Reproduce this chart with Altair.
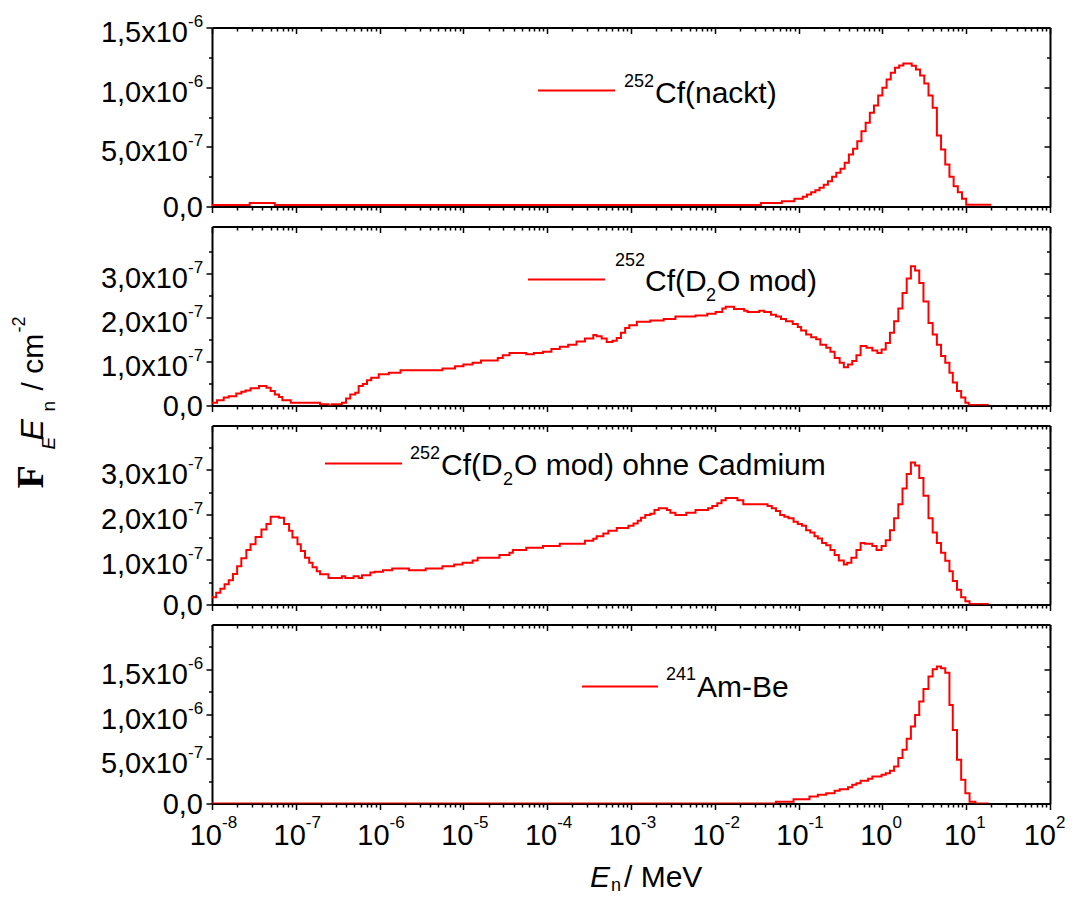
import altair as alt
import pandas as pd

# ---------------- data ----------------
# bin edges as log10(E / MeV); values in units of 1e-7 cm^-2 (step histograms)
cf_bare_logE = [-8.00, -7.55, -7.25, -1.45, -1.20, -1.05, -0.95, -0.90, -0.85, -0.80,
                -0.75, -0.70, -0.65, -0.60, -0.55, -0.50, -0.45, -0.40, -0.35, -0.30,
                -0.25, -0.20, -0.15, -0.10, -0.05, 0.00, 0.05, 0.10, 0.15, 0.20,
                0.25, 0.30, 0.35, 0.40, 0.45, 0.50, 0.55, 0.60, 0.65, 0.70,
                0.75, 0.80, 0.85, 0.90, 0.95, 1.00]
cf_bare_val = [0.12, 0.30, 0.12, 0.30, 0.44, 0.64, 0.81, 1.00, 1.20, 1.37,
               1.57, 1.82, 2.12, 2.49, 2.82, 3.16, 3.66, 4.36, 4.83, 5.47,
               6.31, 7.01, 7.85, 8.46, 9.30, 9.95, 10.64, 11.20, 11.62, 11.82,
               11.98, 11.98, 11.80, 11.48, 10.98, 10.30, 9.30, 8.27, 5.95, 4.78,
               3.52, 2.49, 1.70, 1.20, 0.64, 0.15]
cf_bare_end = 1.30

cf_mod_logE = [-8.00, -7.94, -7.86, -7.80, -7.71, -7.65, -7.60, -7.54, -7.44, -7.35,
               -7.30, -7.25, -7.20, -7.16, -7.06, -6.71, -6.61, -6.57, -6.45, -6.40,
               -6.35, -6.29, -6.25, -6.20, -6.15, -6.10, -6.01, -5.89, -5.75, -5.25,
               -5.10, -5.00, -4.89, -4.79, -4.59, -4.53, -4.45, -4.25, -4.16, -4.05,
               -3.95, -3.85, -3.75, -3.65, -3.55, -3.45, -3.41, -3.35, -3.29, -3.22,
               -3.17, -3.12, -3.07, -3.02, -2.93, -2.77, -2.61, -2.47, -2.23, -2.09,
               -1.99, -1.91, -1.87, -1.77, -1.65, -1.61, -1.47, -1.41, -1.33, -1.27,
               -1.21, -1.15, -1.07, -1.01, -0.97, -0.91, -0.85, -0.79, -0.74, -0.67,
               -0.62, -0.57, -0.51, -0.46, -0.41, -0.36, -0.31, -0.26, -0.19, -0.12,
               -0.06, -0.01, 0.04, 0.09, 0.14, 0.19, 0.24, 0.29, 0.34, 0.39,
               0.44, 0.49, 0.55, 0.60, 0.65, 0.70, 0.75, 0.80, 0.84, 0.89,
               0.94, 0.99, 1.03]
cf_mod_val = [0.06, 0.12, 0.18, 0.21, 0.27, 0.31, 0.34, 0.39, 0.44, 0.40,
              0.33, 0.25, 0.19, 0.12, 0.06, 0.03, 0.00, 0.03, 0.06, 0.16,
              0.25, 0.29, 0.44, 0.49, 0.57, 0.63, 0.71, 0.74, 0.80, 0.84,
              0.89, 0.93, 0.97, 1.02, 1.08, 1.14, 1.19, 1.16, 1.19, 1.22,
              1.28, 1.33, 1.38, 1.45, 1.52, 1.60, 1.57, 1.52, 1.44, 1.47,
              1.53, 1.65, 1.76, 1.82, 1.90, 1.93, 1.96, 2.02, 2.04, 2.08,
              2.12, 2.20, 2.24, 2.19, 2.15, 2.12, 2.15, 2.12, 2.06, 2.02,
              1.96, 1.91, 1.85, 1.78, 1.70, 1.61, 1.55, 1.50, 1.38, 1.31,
              1.22, 1.08, 0.97, 0.87, 0.93, 1.01, 1.14, 1.35, 1.31, 1.25,
              1.19, 1.27, 1.42, 1.65, 1.91, 2.20, 2.55, 2.88, 3.16, 3.06,
              2.78, 2.36, 1.87, 1.61, 1.38, 1.12, 0.97, 0.74, 0.52, 0.33,
              0.18, 0.06, 0.01]
cf_mod_end = 1.27

cf_nocd_logE = [-8.00, -7.95, -7.90, -7.85, -7.80, -7.75, -7.70, -7.65, -7.59, -7.54,
                -7.48, -7.41, -7.35, -7.30, -7.20, -7.14, -7.08, -7.04, -6.98, -6.94,
                -6.89, -6.84, -6.80, -6.75, -6.71, -6.61, -6.45, -6.41, -6.31, -6.25,
                -6.21, -6.11, -6.06, -5.96, -5.85, -5.65, -5.45, -5.25, -5.11, -5.01,
                -4.89, -4.83, -4.57, -4.45, -4.41, -4.25, -4.05, -3.85, -3.55, -3.45,
                -3.41, -3.33, -3.27, -3.17, -3.03, -2.97, -2.92, -2.88, -2.83, -2.77,
                -2.72, -2.67, -2.57, -2.53, -2.47, -2.34, -2.23, -2.08, -2.03, -1.97,
                -1.92, -1.87, -1.73, -1.66, -1.37, -1.32, -1.27, -1.22, -1.17, -1.12,
                -1.06, -1.01, -0.96, -0.91, -0.86, -0.81, -0.77, -0.72, -0.67, -0.62,
                -0.57, -0.52, -0.46, -0.42, -0.37, -0.31, -0.26, -0.21, -0.12, -0.07,
                -0.01, 0.04, 0.09, 0.14, 0.19, 0.24, 0.29, 0.34, 0.39, 0.44,
                0.49, 0.55, 0.60, 0.65, 0.70, 0.75, 0.80, 0.84, 0.89, 0.94,
                0.99, 1.04]
cf_nocd_val = [0.16, 0.26, 0.35, 0.45, 0.54, 0.68, 0.85, 1.03, 1.21, 1.34,
               1.50, 1.67, 1.79, 1.95, 1.93, 1.79, 1.64, 1.49, 1.34, 1.19,
               1.04, 0.93, 0.83, 0.74, 0.67, 0.59, 0.63, 0.59, 0.63, 0.59,
               0.65, 0.71, 0.73, 0.76, 0.80, 0.76, 0.80, 0.85, 0.89, 0.93,
               0.98, 1.04, 1.10, 1.15, 1.21, 1.26, 1.30, 1.35, 1.42, 1.46,
               1.52, 1.58, 1.64, 1.70, 1.75, 1.80, 1.86, 1.93, 1.99, 2.02,
               2.10, 2.14, 2.10, 2.04, 1.99, 2.04, 2.10, 2.14, 2.19, 2.25,
               2.32, 2.37, 2.32, 2.23, 2.19, 2.14, 2.08, 1.99, 1.95, 1.92,
               1.84, 1.79, 1.75, 1.65, 1.60, 1.52, 1.47, 1.37, 1.32, 1.21,
               1.10, 0.98, 0.89, 0.93, 1.04, 1.21, 1.37, 1.35, 1.30, 1.21,
               1.30, 1.43, 1.65, 1.92, 2.23, 2.58, 2.90, 3.16, 3.09, 2.81,
               2.42, 1.92, 1.60, 1.37, 1.15, 0.97, 0.74, 0.52, 0.33, 0.16,
               0.07, 0.01]
cf_nocd_end = 1.27

ambe_logE = [-8.00, -1.27, -1.06, -0.87, -0.77, -0.67, -0.57, -0.51, -0.41, -0.36,
             -0.31, -0.26, -0.17, -0.12, -0.01, 0.04, 0.09, 0.14, 0.19, 0.24,
             0.29, 0.34, 0.39, 0.44, 0.49, 0.55, 0.60, 0.65, 0.70, 0.75,
             0.80, 0.84, 0.89, 0.94, 0.99, 1.04, 1.11]
ambe_val = [0.00, 0.20, 0.48, 0.78, 0.97, 1.15, 1.42, 1.60, 1.82, 2.09,
            2.27, 2.54, 2.76, 3.02, 3.21, 3.39, 3.66, 4.14, 5.07, 6.00,
            7.24, 8.61, 9.90, 11.40, 12.80, 14.20, 15.00, 15.30, 15.10, 14.60,
            11.00, 8.20, 4.90, 2.65, 1.15, 0.20, 0.00]
ambe_end = 1.27

# legend texts
labels = ["252", "Cf(nackt)", "Cf(D", "2", "O mod)", "O mod) ohne Cadmium", "241", "Am-Be"]

# tick labels
x_label_vals = [1e-8, 1e-7, 1e-6, 1e-5, 1e-4, 1e-3, 1e-2, 1e-1, 1e0, 1e1, 1e2]
x_label_base = ["10"] * 11
x_label_exp = ["-8", "-7", "-6", "-5", "-4", "-3", "-2", "-1", "0", "1", "2"]

y_big_vals = [5e-7, 1e-6, 1.5e-6]
y_big_mant = ["5,0x10", "1,0x10", "1,5x10"]
y_big_exp = ["-7", "-6", "-6"]
y_small_vals = [1e-7, 2e-7, 3e-7]
y_small_mant = ["1,0x10", "2,0x10", "3,0x10"]
y_small_exp = ["-7", "-7", "-7"]
y_zero_label = "0,0"

# axis ticks: decades 1e-8..1e2 with minor ticks 2..9
XTICKS = [m * 10.0 ** e for e in range(-8, 2) for m in range(1, 10)] + [1e2]
Y1_TICKS = [k * 2.5e-7 for k in range(7)]
Y23_TICKS = [k * 0.5e-7 for k in range(8)]
Y4_TICKS = [k * 2.5e-7 for k in range(8)]

# ---------------- helpers ----------------
FONT = "Liberation Sans"
RED = "#ff0000"
LOG10 = "(log(datum.value)/LN10)"
XMAJ = f"abs({LOG10} - round({LOG10})) < 0.01"


def ymaj(step):
    return f"abs(datum.value/{step} - round(datum.value/{step})) < 0.01"


def tsize(test, major, minor):
    return {"condition": {"test": test, "value": major}, "value": minor}


def to_df(logE, vals, end):
    E = [10.0 ** l for l in logE] + [10.0 ** end]
    v = [x * 1e-7 for x in vals] + [vals[-1] * 1e-7]
    return pd.DataFrame({"E": E, "v": v})


ONE = alt.Data(values=[{"a": 1}])


def seg(x1, x2, y):
    return alt.Chart(ONE).mark_rule(color=RED, strokeWidth=2).encode(
        x=alt.value(x1), x2=alt.value(x2), y=alt.value(y))


def txt(s, x, y, size, font=FONT, **kw):
    return alt.Chart(ONE).mark_text(text=s, align="left", baseline="alphabetic",
                                    fontSize=size, font=font, color="black", **kw).encode(
        x=alt.value(x), y=alt.value(y))


W, H = 838, 179
XSCALE = alt.Scale(type="log", domain=[1e-8, 1e2], nice=False)


def y_labels(yscale, vals, mant, exps):
    df = pd.DataFrame({"v": vals, "m": mant, "e": exps})
    y = alt.Y("v:Q", scale=yscale, axis=None)
    main = alt.Chart(df).mark_text(align="right", baseline="middle", fontSize=29,
                                   font=FONT, color="black", dy=5.5).encode(
        x=alt.value(-24), y=y, text="m:N")
    sup = alt.Chart(df).mark_text(align="left", baseline="alphabetic", fontSize=17,
                                  font=FONT, color="black", dy=-0.5).encode(
        x=alt.value(-24), y=y, text="e:N")
    zero = alt.Chart(pd.DataFrame({"v": [0.0], "m": [y_zero_label]})).mark_text(
        align="right", baseline="middle", fontSize=29, font=FONT, color="black",
        dy=1.5).encode(x=alt.value(-9), y=y, text="m:N")
    return [main, sup, zero]


def x_labels():
    df = pd.DataFrame({"E": x_label_vals, "b": x_label_base, "e": x_label_exp})
    x = alt.X("E:Q", scale=XSCALE, axis=None)
    inner = alt.datum.E < 50
    outer = alt.datum.E > 50
    layers = []
    for flt, dx in ((inner, 10), (outer, 6)):
        layers.append(alt.Chart(df).transform_filter(flt).mark_text(
            align="right", baseline="alphabetic", fontSize=29, font=FONT,
            color="black", dx=dx, dy=41).encode(x=x, y=alt.value(H), text="b:N"))
        layers.append(alt.Chart(df).transform_filter(flt).mark_text(
            align="left", baseline="alphabetic", fontSize=17, font=FONT,
            color="black", dx=dx, dy=24).encode(x=x, y=alt.value(H), text="e:N"))
    return layers


def panel(df, ymax, ystep, yvals, ylab, extras):
    yscale = alt.Scale(domain=[0, ymax], nice=False, zero=False)
    line = alt.Chart(df).mark_line(interpolate="step-after", color=RED, strokeWidth=2, clip=True).encode(
        x=alt.X("E:Q", scale=XSCALE, axis=alt.Axis(
            orient="bottom", values=XTICKS, labels=False,
            tickSize=tsize(XMAJ, 6, 3.5), title=None, grid=False)),
        y=alt.Y("v:Q", scale=yscale, axis=alt.Axis(
            orient="left", values=yvals, labels=False,
            tickSize=tsize(ymaj(ystep), 6, 3.5), title=None, grid=False)),
    )
    frame = alt.Chart(df).mark_line(opacity=0).encode(
        x=alt.X("E:Q", scale=XSCALE, axis=alt.Axis(
            orient="top", values=XTICKS, labels=False,
            tickSize=tsize(XMAJ, -6, -3.5), title=None, grid=False)),
        y=alt.Y("v:Q", scale=yscale, axis=alt.Axis(
            orient="right", values=yvals, labels=False,
            tickSize=tsize(ymaj(ystep), -6, -3.5), title=None, grid=False)),
    )
    return alt.layer(line, frame, *y_labels(yscale, *ylab), *extras).properties(width=W, height=H)


big = (y_big_vals, y_big_mant, y_big_exp)
small = (y_small_vals, y_small_mant, y_small_exp)

p1 = panel(to_df(cf_bare_logE, cf_bare_val, cf_bare_end), 1.5e-6, 5e-7, Y1_TICKS, big, [
    seg(326, 403, 63),
    txt(labels[0], 412, 59, 18),
    txt(labels[1], 443, 75, 30),
])

p2 = panel(to_df(cf_mod_logE, cf_mod_val, cf_mod_end), 4.06e-7, 1e-7, Y23_TICKS, small, [
    seg(316, 393, 53),
    txt(labels[0], 403, 39, 18),
    txt(labels[2], 433, 64, 30),
    txt(labels[3], 494, 74, 18),
    txt(labels[4], 505, 64, 30),
    # y-axis title, rotated
    txt("F", -169, 262, 38, font="Liberation Serif", fontWeight="bold", angle=270),
    txt("E", -157, 223, 19, fontStyle="italic", angle=270),
    txt("E", -169, 214, 32, fontStyle="italic", angle=270),
    txt("n", -157, 185, 19, angle=270),
    txt("/ cm", -169, 164, 30, angle=270),
    txt("-2", -187, 106, 18, angle=270),
])

p3 = panel(to_df(cf_nocd_logE, cf_nocd_val, cf_nocd_end), 3.98e-7, 1e-7, Y23_TICKS, small, [
    seg(113, 190, 38),
    txt(labels[0], 198, 33, 18),
    txt(labels[2], 229, 49, 30),
    txt(labels[3], 291, 59, 18),
    txt(labels[5], 302, 49, 30),
])

p4 = panel(to_df(ambe_logE, ambe_val, ambe_end), 2.0e-6, 5e-7, Y4_TICKS, big, [
    seg(370, 446, 62),
    txt(labels[6], 454, 55, 18),
    txt(labels[7], 485, 72, 30),
    *x_labels(),
    # x-axis title
    txt("E", 378, 262, 30, fontStyle="italic"),
    txt("n", 399, 266, 18),
    txt("/ MeV", 412, 262, 30),
])

chart = alt.vconcat(p1, p2, p3, p4, spacing=20, bounds="flush").configure_view(
    stroke=None
).configure_axis(
    domainColor="black", domainWidth=2, tickColor="black", tickWidth=1.5,
    minExtent=0,
).properties(
    background="white", padding={"left": 3, "top": 4.5, "right": 0, "bottom": 0}
)

chart.save("out.html", embed_options={"renderer": "svg", "actions": False})
